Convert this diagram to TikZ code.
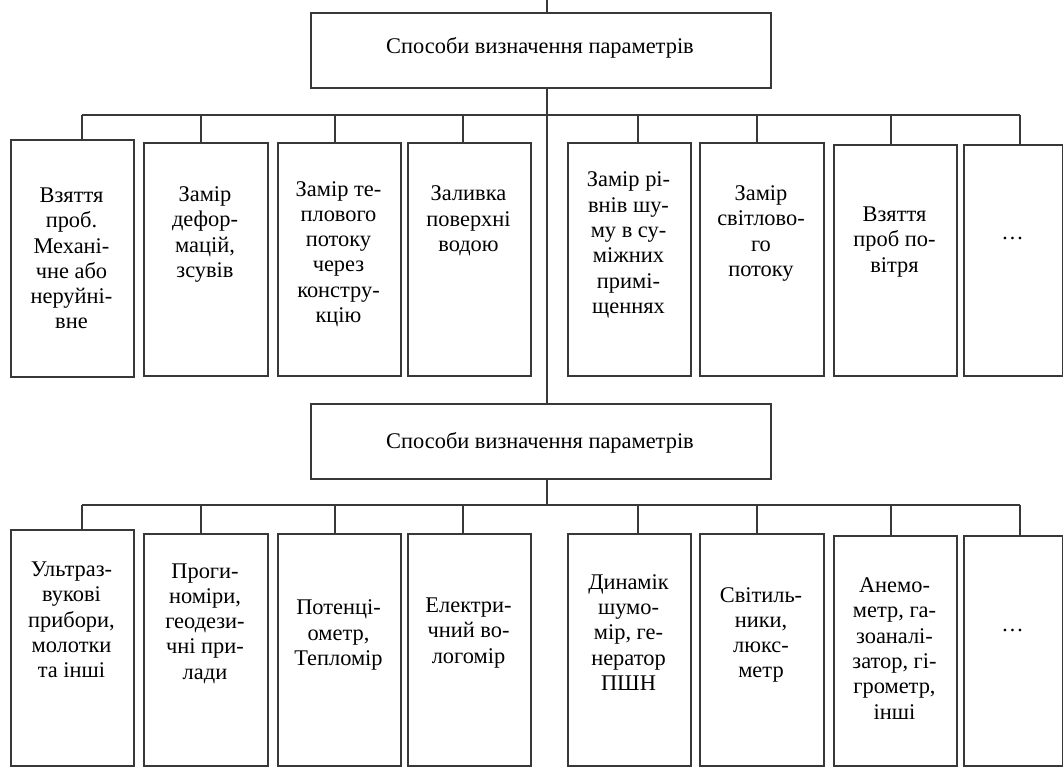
\documentclass[tikz,border=0pt]{standalone}
\usepackage{fontspec}
\setmainfont{Liberation Serif}
\begin{document}
\begin{tikzpicture}[x=1pt,y=-1pt,
  ln/.style={line width=1.8pt, draw=black!78},
  boxst/.style={ln, rectangle, inner sep=0pt, anchor=north west},
  txt/.style={align=center, font=\fontsize{22.4}{25.3}\selectfont, inner sep=0pt, text=black}]
\useasboundingbox (0,0) rectangle (1063,769);
\fill[white] (0,0) rectangle (1063,769);

% title boxes
\node[boxst, minimum width=460pt, minimum height=75pt] (T1) at (310,12) {};
\node[txt] (T1l) at (540,48) {Способи визначення параметрів};
\node[boxst, minimum width=460pt, minimum height=75pt] (T2) at (310,403) {};
\node[txt] (T2l) at (540,443) {Способи визначення параметрів};

% top row boxes
\node[boxst, minimum width=123pt, minimum height=237pt] (a1) at (10,139) {};
\node[boxst, minimum width=124pt, minimum height=233pt] (a2) at (143,142) {};
\node[boxst, minimum width=123pt, minimum height=233pt] (a3) at (277,142) {};
\node[boxst, minimum width=123pt, minimum height=233pt] (a4) at (407,142) {};
\node[boxst, minimum width=123pt, minimum height=233pt] (a5) at (567,142) {};
\node[boxst, minimum width=124pt, minimum height=233pt] (a6) at (699,142) {};
\node[boxst, minimum width=123pt, minimum height=231pt] (a7) at (833,144) {};
\node[boxst, minimum width=99pt, minimum height=231pt] (a8) at (963,144) {};

\node[txt] (a1l) at (71.5,258.5) {Взяття\\проб.\\Механі-\\чне або\\неруйні-\\вне};
\node[txt] (a2l) at (205,234.5) {Замір\\дефор-\\мацій,\\зсувів};
\node[txt] (a3l) at (338.5,254) {Замір те-\\плового\\потоку\\через\\констру-\\кцію};
\node[txt] (a4l) at (468.5,221) {Заливка\\поверхні\\водою};
\node[txt] (a5l) at (628.5,245) {Замір рі-\\внів шу-\\му в су-\\міжних\\примі-\\щеннях};
\node[txt] (a6l) at (761,233.5) {Замір\\світлово-\\го\\потоку};
\node[txt] (a7l) at (894.5,242) {Взяття\\проб по-\\вітря};
\node[txt, anchor=base] (a8l) at (1012.5,239) {…};

% bottom row boxes
\node[boxst, minimum width=123pt, minimum height=236pt] (b1) at (10,529) {};
\node[boxst, minimum width=124pt, minimum height=232pt] (b2) at (143,533) {};
\node[boxst, minimum width=123pt, minimum height=232pt] (b3) at (277,533) {};
\node[boxst, minimum width=123pt, minimum height=232pt] (b4) at (407,533) {};
\node[boxst, minimum width=123pt, minimum height=232pt] (b5) at (567,533) {};
\node[boxst, minimum width=124pt, minimum height=232pt] (b6) at (699,533) {};
\node[boxst, minimum width=123pt, minimum height=230pt] (b7) at (833,535) {};
\node[boxst, minimum width=99pt, minimum height=230pt] (b8) at (963,535) {};

\node[txt] (b1l) at (71.5,620) {Ультраз-\\вукові\\прибори,\\молотки\\та інші};
\node[txt] (b2l) at (205,623.5) {Проги-\\номіри,\\геодези-\\чні при-\\лади};
\node[txt] (b3l) at (338.5,635) {Потенці-\\ометр,\\Тепломір};
\node[txt] (b4l) at (468.5,633) {Електри-\\чний во-\\логомір};
\node[txt] (b5l) at (628.5,632.5) {Динамік\\шумо-\\мір, ге-\\нератор\\ПШН};
\node[txt] (b6l) at (761,635) {Світиль-\\ники,\\люкс-\\метр};
\node[txt] (b7l) at (894.5,648.5) {Анемо-\\метр, га-\\зоаналі-\\затор, гі-\\грометр,\\інші};
\node[txt, anchor=base] (b8l) at (1012.5,631) {…};

% connectors
\coordinate (top) at (547,0);
\draw[ln] (top) -- (top |- T1.north);
\draw[ln] (T1.south -| top) -- (T2.north -| top);
\draw[ln] (T2.south -| top) -- (547,505);

\foreach \i/\x in {1/82,2/201,3/335,4/463,5/638,6/757,7/891,8/1020} {
  \coordinate (u\i) at (\x,115);
  \coordinate (v\i) at (\x,505);
}
\draw[ln] (u1) -- (u8);
\draw[ln] (v1) -- (v8);
\foreach \i in {1,...,8} {
  \draw[ln] (u\i) -- (u\i |- a\i.north);
  \draw[ln] (v\i) -- (v\i |- b\i.north);
}
\end{tikzpicture}
\end{document}
